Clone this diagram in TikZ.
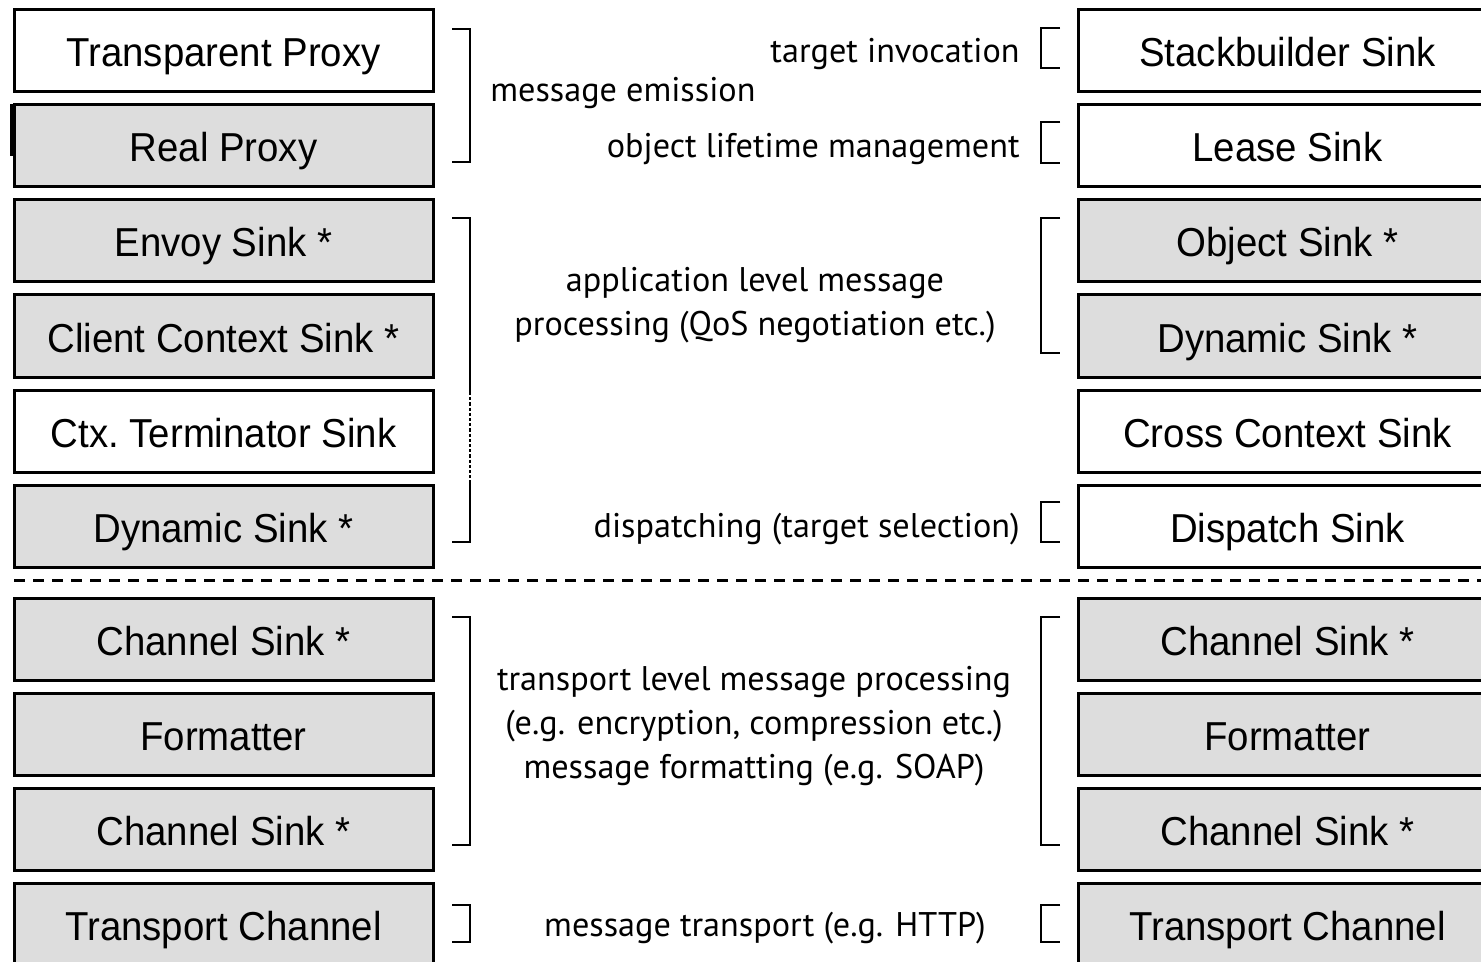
\documentclass[tikz,border=0pt]{standalone}
\usepackage{fontspec}
\setmainfont{Liberation Sans}
\newfontfamily\boxfont[FakeStretch=0.95]{Liberation Sans}
\newfontfamily\notefont{PT Sans}
\usepackage{xcolor}
\definecolor{sinkgray}{RGB}{221,221,221}

\tikzset{
  sink/.style={draw, line width=1.5pt, minimum width=209.5pt, minimum height=41pt,
    inner sep=0pt, text height=16pt, text depth=0pt,
    font=\boxfont\fontsize{20.2}{24}\selectfont},
  graysink/.style={sink, fill=sinkgray},
  note/.style={inner sep=0pt, align=center, font=\notefont\fontsize{17.1}{22}\selectfont},
  brace/.style={line width=1.2pt},
}

\begin{document}
\begin{tikzpicture}[x=0.5pt,y=0.5pt,yscale=-1,xscale=1]
\useasboundingbox (0,0) rectangle (1481,962);
\clip (0,0) rectangle (1481,962);

% Client side stack
\node [sink]     (tproxy)  at (223.5,51)  {Transparent Proxy};
\node [graysink] (rproxy)  at (223.5,146) {Real Proxy};
\node [graysink] (envoy)   at (223.5,241) {Envoy Sink *};
\node [graysink] (clctx)   at (223.5,336) {Client Context Sink *};
\node [sink]     (ctxterm) at (223.5,431) {Ctx.\ Terminator Sink};
\node [graysink] (dynl)    at (223.5,526) {Dynamic Sink *};
\node [graysink] (chla)    at (223.5,639) {Channel Sink *};
\node [graysink] (fmtl)    at (223.5,734) {Formatter};
\node [graysink] (chlb)    at (223.5,829) {Channel Sink *};
\node [graysink] (trl)     at (223.5,924) {Transport Channel};
%Straight Lines: stray mark beside Real Proxy
\draw [line width=2pt] (12,104) -- (12,156) ;

% Server side stack
\node [sink]     (stack)   at (1287.5,51)  {Stackbuilder Sink};
\node [sink]     (lease)   at (1287.5,146) {Lease Sink};
\node [graysink] (objs)    at (1287.5,241) {Object Sink *};
\node [graysink] (dynr)    at (1287.5,336) {Dynamic Sink *};
\node [sink]     (crossctx) at (1287.5,431) {Cross Context Sink};
\node [sink]     (dispatch) at (1287.5,526) {Dispatch Sink};
\node [graysink] (chra)    at (1287.5,639) {Channel Sink *};
\node [graysink] (fmtr)    at (1287.5,734) {Formatter};
\node [graysink] (chrb)    at (1287.5,829) {Channel Sink *};
\node [graysink] (trr)     at (1287.5,924) {Transport Channel};

%Straight Lines: context / channel border
\draw [line width=1.5pt, dash pattern=on 5.5pt off 4pt] (14,580) -- (1481,580) ;

% Left brackets
\draw [brace] (452,29) -- (470,29) -- (470,162) -- (452,162) ;
\draw [brace] (452,218) -- (470,218) -- (470,392) ;
\draw [brace, dash pattern=on 1.6pt off 1pt] (470,392) -- (470,482) ;
\draw [brace] (470,482) -- (470,542) -- (452,542) ;
\draw [brace] (452,617) -- (470,617) -- (470,845) -- (452,845) ;
\draw [brace] (452,905) -- (470,905) -- (470,942) -- (452,942) ;

% Right brackets
\draw [brace] (1060,28) -- (1041,28) -- (1041,68) -- (1060,68) ;
\draw [brace] (1060,122) -- (1041,122) -- (1041,163) -- (1060,163) ;
\draw [brace] (1060,218) -- (1041,218) -- (1041,353) -- (1060,353) ;
\draw [brace] (1060,502) -- (1041,502) -- (1041,542) -- (1060,542) ;
\draw [brace] (1060,617) -- (1041,617) -- (1041,845) -- (1060,845) ;
\draw [brace] (1060,905) -- (1041,905) -- (1041,942) -- (1060,942) ;

% Text Nodes
\node [note, anchor=west] (emit)   at (490,93)  {message emission};
\node [note, anchor=east] (invoke) at (1020,54) {target invocation};
\node [note, anchor=east] (life)   at (1020,149) {object lifetime management};
\node [note] (appl)  at (755,305) {application level message\\processing (QoS negotiation etc.)};
\node [note, anchor=east] (disp)   at (1020,529) {dispatching (target selection)};
\node [note] (transp) at (754,726) {transport level message processing\\(e.g. encryption, compression etc.)\\message formatting (e.g. SOAP)};
\node [note] (msgtr) at (765,928) {message transport (e.g. HTTP)};

\end{tikzpicture}
\end{document}
